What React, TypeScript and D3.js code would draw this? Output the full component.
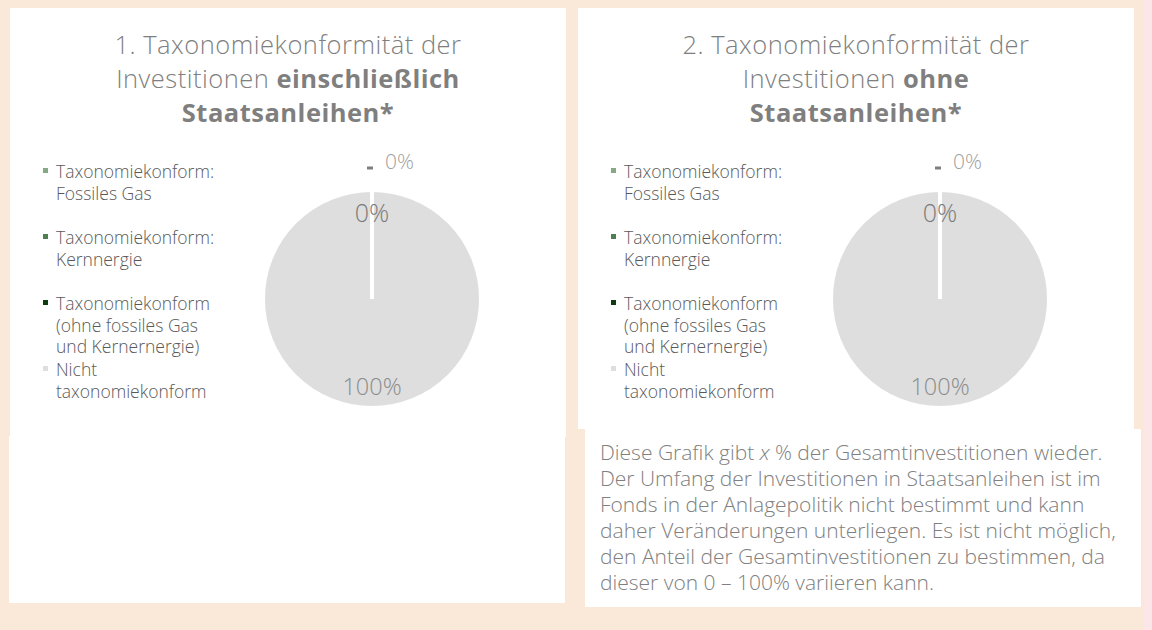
import React from "react";
import * as d3 from "d3";

const categories = [
  "Taxonomiekonform: Fossiles Gas",
  "Taxonomiekonform: Kernnergie",
  "Taxonomiekonform (ohne fossiles Gas und Kernernergie)",
  "Nicht taxonomiekonform",
];
const legendLines = [
  ["Taxonomiekonform:", "Fossiles Gas"],
  ["Taxonomiekonform:", "Kernnergie"],
  ["Taxonomiekonform", "(ohne fossiles Gas", "und Kernernergie)"],
  ["Nicht", "taxonomiekonform"],
];
const sliceColors = ["#86A886", "#4E7F52", "#0E3B10", "#DEDEDE"];
const valuesIncl = [0, 0, 0, 100];
const valuesExcl = [0, 0, 0, 100];
const titleIncl = [["1. Taxonomiekonformität der", ""], ["Investitionen ", "einschließlich"], ["", "Staatsanleihen*"]];
const titleExcl = [["2. Taxonomiekonformität der", ""], ["Investitionen ", "ohne"], ["", "Staatsanleihen*"]];
const noteLines = [
  "Diese Grafik gibt |x| % der Gesamtinvestitionen wieder.",
  "Der Umfang der Investitionen in Staatsanleihen ist im",
  "Fonds in der Anlagepolitik nicht bestimmt und kann",
  "daher Veränderungen unterliegen. Es ist nicht möglich,",
  "den Anteil der Gesamtinvestitionen zu bestimmen, da",
  "dieser von 0 – 100% variieren kann.",
];

const FONT = "'Open Sans', 'Noto Sans', sans-serif";
const BG = "#FAE8D8";

function Panel({ ox, values, title }: { ox: number; values: number[]; title: string[][] }) {
  const cx = ox + 362;
  const cy = 299;
  const r = 109;
  const pie = d3.pie<number>().sort(null).value((d) => d).startAngle(0).endAngle(2 * Math.PI);
  const arcs = pie(values);
  const arc = d3.arc<d3.PieArcDatum<number>>().innerRadius(0).outerRadius(r);
  const labelArc = d3.arc<d3.PieArcDatum<number>>().innerRadius(r * 0.8).outerRadius(r * 0.8);
  const outArc = d3.arc<d3.PieArcDatum<number>>().innerRadius(r + 22).outerRadius(r + 22);
  const fmt = (v: number) => d3.format(".0%")(v / d3.sum(values));
  const titleCx = ox + 278;

  const lineH = 21.5;
  let y = 178;
  const legendItems = legendLines.map((lines, i) => {
    const item = { lines, y, color: sliceColors[i], name: categories[i] };
    y += Math.max(66, lines.length * lineH);
    return item;
  });

  return (
    <g>
      {title.map((t, i) => (
        <text key={i} x={titleCx} y={54 + i * 34} textAnchor="middle" fontFamily={FONT} fontSize={25.5}
          letterSpacing={0.5} fill="#7F7F7F" fontWeight={300}>
          {t[0] && <tspan>{t[0]}</tspan>}
          {t[1] && <tspan fontWeight={700}>{t[1]}</tspan>}
        </text>
      ))}
      {legendItems.map((it, i) => (
        <g key={i}>
          <rect x={ox + 33} y={it.y - 10} width={5} height={5} fill={it.color} />
          {it.lines.map((l, j) => (
            <text key={j} x={ox + 46} y={it.y + j * lineH} fontFamily={FONT} fontSize={17.5} fill="#595959" fontWeight={300}>
              {l}
            </text>
          ))}
        </g>
      ))}
      <g transform={`translate(${cx},${cy})`}>
        {arcs.map((a, i) => (
          <path key={"f" + i} d={arc(a) || ""} fill={sliceColors[i]} />
        ))}
        {arcs.map((a, i) => (
          <path key={"s" + i} d={arc(a) || ""} fill="none" stroke="#FFFFFF" strokeWidth={4} />
        ))}
        {arcs.map((a, i) => {
          if (i === 0) {
            const [x, yy] = outArc.centroid(a);
            return (
              <g key={"l" + i}>
                <line x1={x - 5} x2={x + 1} y1={yy} y2={yy} stroke="#7F7F7F" strokeWidth={3} />
                <text x={x + 13} y={yy + 1} fontFamily={FONT} fontSize={21} fill="#A0A0A0" fontWeight={300}>
                  {fmt(a.data)}
                </text>
              </g>
            );
          }
          if (i === 1) return null;
          const [x, yy] = labelArc.centroid(a);
          const big = a.data > 0;
          return (
            <text key={"l" + i} x={x} y={yy} textAnchor="middle" dominantBaseline="central" fontFamily={FONT}
              fontSize={big ? 23.5 : 25} fill={big ? "#8C8C8C" : "#7A7A7A"} fontWeight={300}>
              {fmt(a.data)}
            </text>
          );
        })}
      </g>
    </g>
  );
}

export default function App() {
  return (
    <svg width={1152} height={630} style={{ position: "absolute", left: 0, top: 0, display: "block" }}>
      <rect x={0} y={0} width={1152} height={630} fill={BG} />
      <rect x={1144} y={0} width={8} height={630} fill="#FDE6E8" />
      <rect x={10} y={8} width={556} height={429} fill="#FFFFFF" />
      <rect x={9} y={436} width={556} height={167} fill="#FFFFFF" />
      <rect x={578} y={8} width={556} height={421} fill="#FFFFFF" />
      <rect x={585} y={429} width={556} height={178} fill="#FFFFFF" />
      <Panel ox={10} values={valuesIncl} title={titleIncl} />
      <Panel ox={578} values={valuesExcl} title={titleExcl} />
      {noteLines.map((l, i) => {
        const parts = l.split("|");
        return (
          <text key={i} x={600} y={460 + i * 26} fontFamily={FONT} fontSize={21} fill="#808080" fontWeight={300}>
            {parts.map((p, j) => (
              <tspan key={j} fontStyle={j === 1 ? "italic" : "normal"}>{p}</tspan>
            ))}
          </text>
        );
      })}
    </svg>
  );
}
